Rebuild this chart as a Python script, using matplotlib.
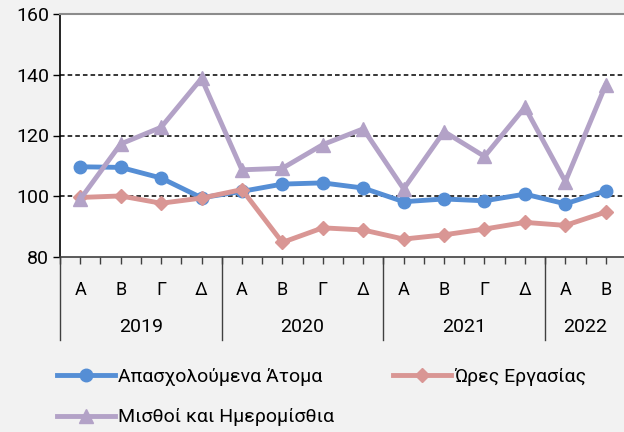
import matplotlib
matplotlib.use("Agg")
import matplotlib.pyplot as plt
from matplotlib.transforms import blended_transform_factory

plt.rcParams['font.family'] = ['Roboto', 'DejaVu Sans']

# quarters and years
quarters = ['Α', 'Β', 'Γ', 'Δ', 'Α', 'Β', 'Γ', 'Δ', 'Α', 'Β', 'Γ', 'Δ', 'Α', 'Β']
years = ['2019', '2020', '2021', '2022']
year_len = [4, 4, 4, 2]

# series (index values)
atoma = [109.7, 109.5, 106.0, 99.5, 101.6, 104.0, 104.4, 102.7, 98.2, 99.1, 98.5, 100.7, 97.5, 101.8]
ores = [99.6, 100.1, 97.7, 99.4, 102.2, 84.8, 89.6, 88.9, 85.9, 87.3, 89.2, 91.4, 90.4, 94.8]
misthoi = [99.0, 117.2, 122.7, 138.8, 108.7, 109.2, 117.0, 122.2, 102.4, 121.3, 113.1, 129.3, 104.8, 136.7]

labels = ['Απασχολούμενα Άτομα', 'Ώρες Εργασίας', 'Μισθοί και Ημερομίσθια']
colors = ['#558ED5', '#D99694', '#B3A2C7']

fig = plt.figure(figsize=(6.24, 4.32), dpi=100, facecolor='#F2F2F2')
ax = fig.add_axes([60/624, 1-257/432, 566/624, 243/432])
ax.set_facecolor('white')

x = list(range(len(quarters)))
h1, = ax.plot(x, atoma, color=colors[0], lw=3.5, marker='o', ms=9, label=labels[0])
h2, = ax.plot(x, ores, color=colors[1], lw=3.5, marker='D', ms=7, label=labels[1])
h3, = ax.plot(x, misthoi, color=colors[2], lw=3.5, marker='^', ms=9.5, label=labels[2])

ax.set_xlim(-0.5, len(quarters) - 0.5)
ax.set_ylim(80, 160)
ax.set_yticks(range(80, 161, 20))
for v in (100, 120, 140):
    ax.axhline(v, color='black', lw=1.1, ls=(0, (3, 2)), zorder=0)

ax.tick_params(axis='y', labelsize=14, length=5, width=1, direction='out', pad=3)
ax.spines['left'].set_color('black')
ax.spines['left'].set_linewidth(1.2)
ax.spines['top'].set_color('#8C8C8C')
ax.spines['top'].set_linewidth(1.5)
ax.spines['right'].set_visible(False)
ax.spines['bottom'].set_color('#404040')
ax.spines['bottom'].set_linewidth(1.2)

# x axis: short ticks at centers and boundaries
ax.set_xticks([i * 0.5 - 0.5 for i in range(2 * len(quarters) + 1)])
ax.set_xticklabels([])
ax.tick_params(axis='x', length=5, width=1, color='#404040', direction='out')

trans = blended_transform_factory(ax.transData, ax.transAxes)
for i, q in enumerate(quarters):
    ax.text(i, -0.135, q, transform=trans, ha='center', va='center', fontsize=13)

start = 0
bounds = [-0.5]
for y, n in zip(years, year_len):
    ax.text(start + (n - 1) / 2, -0.29, y, transform=trans, ha='center', va='center', fontsize=14)
    start += n
    bounds.append(start - 0.5)
for b in bounds[:-1]:
    ax.plot([b, b], [0, -0.34], transform=trans, color='#404040', lw=1, clip_on=False)

fig.legend([h1, h3, h2], [labels[0], labels[2], labels[1]], ncol=2, loc='upper left',
           bbox_to_anchor=(57/624, 1-368/432), frameon=False, fontsize=14,
           handlelength=3.0, handletextpad=0.15, columnspacing=3.0,
           labelspacing=1.15, borderpad=0, borderaxespad=0)

fig.savefig('out.png', dpi=100, facecolor=fig.get_facecolor())
